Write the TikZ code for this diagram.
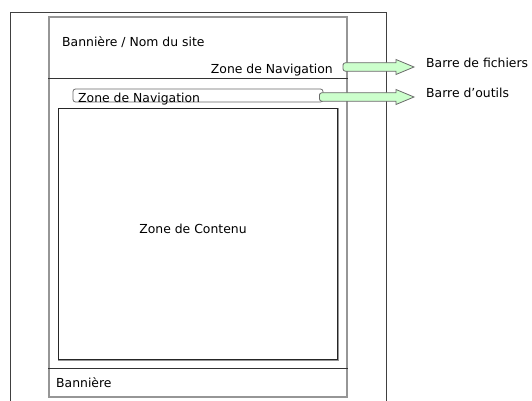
\documentclass[tikz,border=0pt]{standalone}
\usepackage{fontspec}
\setmainfont{DejaVu Sans}
\usetikzlibrary{calc}

\definecolor{vertclair}{RGB}{204,255,204}
\definecolor{grisbord}{RGB}{105,105,105}
\definecolor{grispage}{RGB}{150,150,150}

% grosse fleche verte d'un noeud vers une etiquette
\newcommand{\fleche}[3]{%
  \draw[fleche] let \p1=(#1.east), \p2=(#2.west) in
    ({\x1+#3},{\y2-4pt}) [rounded corners=2.5pt] -- ({\x1+#3},{\y2+0.25pt}) [sharp corners]
    -- ({\x2-30pt},{\y2+0.25pt}) -- ({\x2-30pt},{\y2+3.5pt}) -- ({\x2-12pt},{\y2-4pt})
    -- ({\x2-30pt},{\y2-11.5pt}) -- ({\x2-30pt},{\y2-8.25pt}) [rounded corners=2.5pt]
    -- ({\x1+#3},{\y2-8.25pt}) -- cycle;}

\begin{document}
\begin{tikzpicture}[x=1pt, y=-1pt,
    texte/.style={inner sep=0pt, font=\fontsize{12.4}{15}\selectfont},
    trait/.style={draw=black!80, line width=0.9pt},
    fleche/.style={draw=grisbord, fill=vertclair, line width=0.8pt}]
		\useasboundingbox (0,0) rectangle (532,401);

		\draw[draw=black!75, line width=0.8pt] (10.5,401) |- (386,12) -- (386,401);

		\node[draw=grispage, line width=1.4pt, minimum width=298pt, minimum height=380pt] (page) at (198,207) {};
		\draw[trait] ([yshift=-62pt]page.north west) -- ([yshift=-62pt]page.north east);
		\draw[trait] ([yshift=29pt]page.south west) -- ([yshift=29pt]page.south east);

		\node[texte, anchor=west] (banniere) at (62,42) {Bannière / Nom du site};
		\node[texte, anchor=east] (nav1) at (333,70) {Zone de Navigation};

		\node[draw=grisbord, line width=0.8pt, rounded corners=2.5pt, minimum width=250pt, minimum height=13pt] (navbar) at (198,95.5) {};
		\node[texte, anchor=west] (nav2) at (78,99) {Zone de Navigation};

		\node[draw=black!85, line width=0.9pt, minimum width=279pt, minimum height=251pt] (contenu) at (197.5,233.5) {};
		\draw[draw=grispage, line width=1.2pt] ([shift={(1.2pt,-0.5pt)}]contenu.north east) |- ([shift={(0pt,-1.2pt)}]contenu.south west);
		\node[texte] (zc) at (193,229) {Zone de Contenu};

		\node[texte, anchor=west] (pied) at (56,383) {Bannière};

		\node[texte, anchor=west] (fichiers) at (426,63) {Barre de fichiers};
		\node[texte, anchor=west] (outils) at (426,93) {Barre d’outils};

		\fleche{nav1}{fichiers}{10pt}
		\fleche{navbar}{outils}{-4pt}
	\end{tikzpicture}
\end{document}
